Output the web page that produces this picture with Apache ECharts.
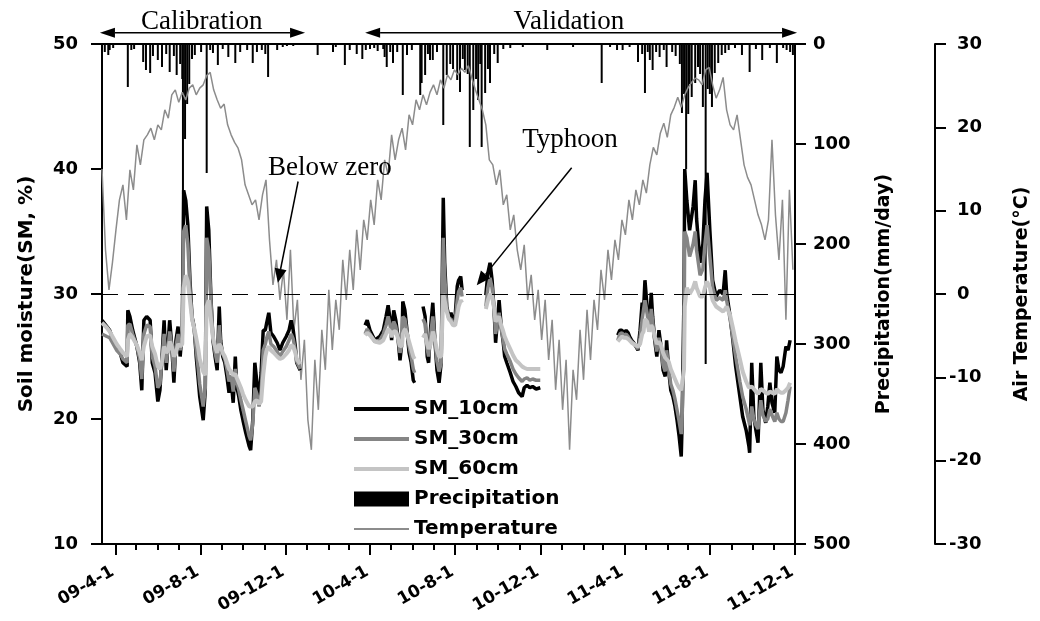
<!DOCTYPE html>
<html>
<head>
<meta charset="utf-8">
<script src="https://cdn.jsdelivr.net/npm/echarts@6/dist/echarts.min.js"></script>
<style>
  html, body { margin: 0; padding: 0; background: #fff; }
  #chart { width: 1040px; height: 621px; }
</style>
</head>
<body>
<div id="chart"></div>
<script>
// day 0 of every day count below
var startDate = [2009, 2, 13];
var tickLabels = ["09-4-1", "09-8-1", "09-12-1", "10-4-1", "10-8-1", "10-12-1", "11-4-1", "11-8-1", "11-12-1"];

// air temperature, one reading every 5 days from day 0
var tempStep = 5;
var tempVals = [15, 5.3, 0.5, 3.8, 7.7, 11.3, 13.1, 8.9, 14.9, 12.5,
  17.9, 15.5, 18.5, 19.1, 19.9, 18.5, 20.3, 19.7, 22.1, 21.1,
  23.9, 24.5, 23.0, 24.2, 23.3, 24.7, 25.1, 23.9, 24.7, 25.1,
  26.2, 26.6, 24.5, 23.3, 22.3, 22.8, 20.3, 19.1, 18.2, 17.5,
  16.1, 13.1, 11.9, 10.7, 11.3, 8.9, 11.9, 13.7, 6.5, 1.1,
  4.1, -0.7, 2.9, -3.1, 5.3, -4.3, -0.7, -10.3, -5.5, -15.1,
  -18.7, -7.9, -13.9, -4.3, -9.1, 0.5, -6.7, -0.7, -4.3, 4.1,
  -0.7, 5.3, 0.5, 7.7, 2.9, 8.9, 6.5, 11.3, 8.3, 13.7,
  11.3, 16.1, 14.3, 19.1, 16.1, 18.5, 19.9, 17.3, 21.5, 20.3,
  23.3, 22.1, 23.9, 22.7, 24.2, 25.1, 23.9, 25.7, 24.7, 26.3,
  25.7, 26.9, 26.3, 27.1, 26.6, 27.4, 25.9, 24.5, 23.3, 22.1,
  20.3, 16.1, 15.5, 13.1, 14.9, 10.7, 11.9, 7.7, 9.5, 5.3,
  2.9, 5.9, -0.7, 2.3, -3.1, 0.5, -5.5, -0.7, -7.9, -3.1,
  -11.5, -5.5, -13.9, -7.9, -18.7, -9.1, -12.7, -4.3, -10.3, -1.9,
  -7.9, -0.7, -4.3, 2.9, -0.7, 5.3, 1.7, 6.5, 4.1, 8.9,
  7.1, 11.3, 8.9, 12.5, 10.7, 13.7, 12.1, 15.5, 17.6, 16.7,
  19.3, 20.5, 18.8, 21.5, 22.4, 23.6, 22.4, 23.9, 24.8, 25.4,
  25.9, 25.7, 25.1, 26.9, 27.2, 25.1, 23.5, 24.5, 26.0, 22.1,
  20.3, 19.7, 21.5, 18.5, 15.5, 14.0, 13.1, 11.3, 9.5, 8.3,
  6.5, 8.9, 18.5, 9.5, 4.1, 11.3, -3.1, 12.5, 2.9];

// daily precipitation events (day, mm)
var precipDay = [4, 9, 11, 16, 37, 42, 46, 59, 63, 69,
  73, 80, 86, 92, 97, 103, 107, 112, 115, 116,
  119, 122, 125, 129, 133, 142, 150, 155, 159, 166,
  173, 181, 191, 198, 208, 216, 222, 229, 234, 238,
  251, 259, 265, 274, 309, 331, 335, 348, 355, 365,
  373, 378, 384, 390, 395, 403, 405, 408, 413, 417,
  423, 431, 437, 444, 456, 458, 463, 467, 470, 474,
  480, 489, 494, 499, 503, 509, 513, 517, 520, 524,
  527, 532, 536, 539, 542, 544, 549, 553, 556, 562,
  567, 575, 585, 603, 638, 675, 716, 728, 738, 746,
  756, 768, 774, 778, 782, 785, 789, 794, 799, 805,
  809, 817, 822, 828, 831, 834, 837, 840, 842, 845,
  850, 854, 857, 861, 865, 868, 871, 874, 878, 883,
  888, 893, 898, 907, 917, 928, 937, 946, 957, 967,
  976, 981, 986, 990];
var precipMm = [8, 11, 6, 4, 43, 6, 5, 18, 26, 29,
  12, 16, 23, 10, 28, 12, 31, 20, 35, 150,
  95, 60, 40, 15, 11, 8, 129, 6, 9, 21,
  5, 13, 19, 8, 6, 19, 8, 6, 10, 33,
  6, 3, 2, 2, 11, 8, 3, 21, 6, 10,
  15, 6, 5, 4, 7, 5, 13, 23, 8, 19,
  8, 51, 11, 6, 51, 39, 31, 10, 16, 16,
  8, 81, 31, 20, 25, 36, 48, 15, 26, 30,
  103, 66, 35, 56, 20, 103, 49, 25, 39, 10,
  19, 5, 4, 3, 6, 3, 39, 3, 6, 6,
  3, 18, 10, 49, 8, 16, 26, 8, 13, 6,
  23, 8, 12, 20, 69, 50, 125, 70, 40, 53,
  39, 23, 30, 63, 320, 45, 50, 63, 29, 19,
  11, 9, 6, 4, 11, 28, 5, 16, 4, 19,
  4, 6, 8, 11];

// soil moisture readings (null = no record)
var smDay = [0, 7, 11, 16, 21, 26, 30, 36, 37, 40,
  44, 50, 54, 57, 60, 64, 69, 72, 76, 80,
  83, 86, 89, 92, 95, 97, 100, 103, 106, 109,
  112, 115, 117, 120, 123, 126, 129, 132, 135, 138,
  140, 145, 148, 150, 153, 156, 159, 162, 165, 168,
  170, 173, 176, 179, 182, 185, 188, 191, 193, 196,
  199, 202, 206, 211, 213, 216, 219, 222, 225, 228,
  231, 234, 236, 239, 242, 246, 251, 255, 259, 264,
  268, 271, 274, 277, 279, 284, 330,
  377, 380, 384, 391, 398, 403, 407, 410, 413, 415,
  418, 421, 424, 427, 430, 431, 434, 437, 440, 443,
  446, 448, 453, 460, 463, 466, 468, 471, 474, 477,
  480, 483, 486, 489, 491, 494, 497, 500, 503, 506,
  509, 511, 514, 516, 533, 550, 553, 556, 559, 562,
  564, 569, 572, 575, 577, 580, 585, 589, 593, 597,
  602, 605, 609, 613, 617, 622, 628, 685,
  739, 742, 745, 748, 751, 754, 756, 759, 762, 765,
  768, 771, 774, 776, 778, 781, 784, 787, 789, 792,
  795, 798, 801, 804, 807, 809, 812, 815, 818, 821,
  824, 827, 830, 831, 834, 835, 838, 842, 847, 850,
  852, 857, 861, 864, 867, 871, 875, 880, 885, 890,
  893, 895, 900, 904, 908, 914, 918, 923, 927, 928,
  931, 934, 937, 940, 944, 947, 951, 954, 957, 960,
  964, 967, 970, 973, 976, 980, 983, 986];
var sm10 = [27.9, 27.4, 27.1, 26.3, 25.8, 25.3, 24.5, 24.2, 28.7, 28.2,
  27.1, 25.8, 24.5, 22.3, 27.9, 28.2, 27.9, 24.5, 23.7, 21.4,
  22.3, 25.0, 27.9, 23.9, 26.3, 27.9, 25.8, 22.9, 26.3, 27.4,
  25.0, 27.1, 38.3, 37.5, 35.5, 31.1, 28.2, 27.4, 25.0, 23.1,
  21.8, 19.9, 22.3, 37.0, 35.1, 29.8, 26.3, 25.0, 23.9, 29.0,
  26.3, 25.0, 24.5, 23.4, 22.1, 23.1, 21.3, 25.0, 22.6, 21.8,
  20.7, 19.9, 18.9, 17.8, 17.5, 19.9, 24.5, 22.9, 21.5, 23.7,
  27.1, 27.1, 27.7, 28.5, 26.9, 26.6, 26.1, 25.5, 26.1, 26.6,
  27.1, 27.9, 27.1, 25.8, 24.5, 23.9, null,
  27.5, 27.9, 27.1, 26.3, 26.6, 27.1, 28.2, 29.1, 27.9, 26.3,
  28.7, 27.9, 26.6, 24.7, 26.3, 29.4, 28.7, 27.1, 25.3, 24.5,
  23.1, 22.9, null, 29.0, 28.2, 25.0, 24.5, 27.4, 29.3, 26.3,
  23.9, 22.9, 24.5, 37.7, 32.5, 29.0, 28.2, 28.5, 27.9, 28.2,
  30.6, 31.1, 31.4, 30.3, null, 29.9, 31.7, 32.5, 31.1, 28.5,
  26.1, 29.5, 27.4, 26.1, 25.0, 24.5, 23.7, 23.0, 22.6, 22.1,
  21.8, 22.5, 22.7, 22.5, 22.6, 22.4, 22.5, null,
  26.7, 27.1, 27.1, 26.9, 27.1, 26.9, 26.6, 26.3, 26.1, 25.8,
  25.5, 27.1, 29.3, 28.7, 31.1, 29.0, 27.1, 30.1, 28.2, 26.3,
  25.0, 27.1, 25.8, 23.9, 23.4, 26.3, 23.9, 22.3, 21.8, 21.0,
  19.9, 18.6, 17.0, 19.1, 30.0, 40.0, 37.5, 35.1, 37.0, 39.1,
  36.0, 32.5, 34.0, 37.5, 39.7, 35.1, 31.1, 29.8, 30.3, 30.0,
  31.9, 30.1, 28.2, 26.3, 24.2, 21.8, 20.2, 19.1, 17.8, 17.3,
  24.5, 20.2, 19.1, 18.1, 24.5, 20.7, 19.7, 21.0, 22.9, 21.3,
  20.5, 25.0, 23.9, 23.7, 24.2, 25.8, 25.5, 26.3];
var sm30 = [26.8, 26.6, 26.5, 26.0, 25.5, 25.2, 24.8, 24.5, 27.5, 27.6,
  26.8, 25.8, 24.8, 23.2, 26.8, 27.5, 27.4, 25.0, 24.2, 22.5,
  22.8, 24.8, 26.8, 24.5, 25.8, 27.0, 25.8, 23.8, 25.8, 26.8,
  25.5, 26.5, 35.0, 35.5, 34.0, 30.5, 28.0, 27.2, 25.5, 24.0,
  22.8, 21.0, 22.5, 34.5, 33.5, 29.5, 26.5, 25.3, 24.5, 27.5,
  26.0, 25.2, 24.8, 24.0, 23.0, 23.5, 22.2, 24.0, 23.0, 22.3,
  21.5, 20.8, 19.8, 18.6, 18.3, 19.6, 22.5, 22.0, 21.0, 22.0,
  25.5, 26.0, 26.5, 27.0, 26.0, 25.8, 25.4, 25.0, 25.4, 25.8,
  26.3, 26.8, 26.4, 25.5, 24.6, 24.0, null,
  26.8, 27.2, 26.8, 26.2, 26.3, 26.8, 27.5, 28.2, 27.5, 26.5,
  27.8, 27.4, 26.5, 25.3, 26.0, 28.2, 28.0, 27.0, 25.8, 25.0,
  24.0, 23.7, null, 28.0, 27.6, 25.6, 25.0, 26.8, 28.2, 26.3,
  24.6, 23.8, 24.5, 34.5, 31.5, 28.8, 28.0, 28.0, 27.6, 27.8,
  29.5, 30.2, 30.5, 29.8, null, 29.0, 30.5, 31.3, 30.5, 28.6,
  26.8, 28.5, 27.2, 26.3, 25.6, 25.2, 24.6, 24.0, 23.6, 23.3,
  23.0, 23.2, 23.3, 23.1, 23.2, 23.1, 23.1, null,
  26.3, 26.8, 26.9, 26.7, 26.8, 26.6, 26.4, 26.2, 26.0, 25.8,
  25.6, 26.5, 28.0, 28.0, 29.5, 28.5, 27.0, 28.8, 27.8, 26.4,
  25.4, 26.5, 25.6, 24.3, 23.8, 25.5, 24.0, 22.8, 22.3, 21.6,
  20.7, 19.8, 18.8, 19.5, 26.0, 35.0, 34.5, 33.0, 34.0, 35.0,
  33.5, 31.5, 32.0, 34.0, 35.5, 33.0, 30.5, 29.5, 29.7, 29.5,
  30.3, 29.5, 28.0, 26.5, 25.0, 23.0, 21.8, 20.8, 19.8, 19.5,
  21.0, 20.0, 19.5, 19.2, 21.5, 20.3, 19.8, 20.0, 20.8, 20.3,
  19.8, 20.5, 20.0, 19.8, 19.8, 20.5, 21.5, 22.6];
var sm60 = [27.7, 27.3, 27.0, 26.5, 26.0, 25.6, 25.3, 25.0, 26.3, 26.8,
  26.5, 25.9, 25.3, 24.7, 25.8, 26.6, 26.7, 25.8, 25.2, 24.2,
  24.0, 24.6, 25.8, 25.3, 25.5, 26.2, 25.8, 25.0, 25.3, 26.0,
  25.8, 26.0, 30.5, 31.5, 31.0, 29.5, 28.0, 27.3, 26.5, 25.6,
  24.8, 23.8, 23.5, 29.0, 29.5, 28.0, 26.5, 25.8, 25.3, 26.0,
  25.8, 25.3, 25.0, 24.5, 24.0, 23.8, 23.5, 23.6, 23.3, 22.9,
  22.5, 22.0, 21.5, 21.0, 20.9, 21.0, 21.4, 21.5, 21.2, 21.4,
  23.5, 25.0, 25.5, 25.8, 25.5, 25.3, 25.0, 24.8, 24.9, 25.2,
  25.5, 25.9, 25.8, 25.3, 24.8, 24.4, null,
  26.7, 26.9, 26.7, 26.2, 26.1, 26.3, 26.8, 27.2, 27.0, 26.6,
  27.0, 27.0, 26.5, 25.8, 25.9, 26.8, 27.2, 26.8, 26.2, 25.6,
  25.0, 24.8, null, 26.5, 26.8, 26.0, 25.6, 26.0, 27.0, 26.4,
  25.5, 25.0, 25.0, 30.0, 30.0, 28.6, 28.0, 27.8, 27.5, 27.5,
  28.3, 29.0, 29.5, 29.3, null, 28.8, 29.5, 30.0, 29.8, 28.8,
  27.8, 28.2, 27.5, 27.0, 26.6, 26.2, 25.6, 25.1, 24.7, 24.5,
  24.2, 24.1, 24.0, 24.0, 24.0, 24.0, 24.0, null,
  26.2, 26.4, 26.6, 26.5, 26.5, 26.4, 26.3, 26.1, 26.0, 25.9,
  25.8, 26.0, 26.8, 27.0, 28.0, 27.8, 27.0, 27.5, 27.3, 26.6,
  26.0, 26.2, 25.9, 25.3, 24.9, 25.0, 24.6, 24.0, 23.6, 23.2,
  22.8, 22.5, 22.3, 22.3, 24.0, 29.0, 30.5, 30.0, 30.5, 31.0,
  30.5, 29.8, 29.8, 30.5, 31.0, 30.5, 29.5, 29.0, 28.8, 28.6,
  28.8, 29.0, 28.3, 27.3, 26.2, 24.8, 23.8, 23.0, 22.5, 22.4,
  22.6, 22.4, 22.2, 22.0, 22.4, 22.3, 22.1, 22.0, 22.2, 22.1,
  22.0, 22.4, 22.2, 22.1, 22.1, 22.3, 22.5, 22.9];

// annotation anchors: [day, soil moisture]
var calibSpan = [-3, 291];
var validSpan = [377, 996];
var spanLevel = 50.9;
var calibText = [143, 51.8];
var validText = [669, 51.8];
var belowZeroText = [238, 40.1];
var belowZeroArrow = [[281, 39.0], [252, 30.9]];
var typhoonText = [602, 42.3];
var typhoonArrow = [[673, 40.1], [537, 30.7]];

var FONT = "DejaVu Sans";
var SERIF = "Liberation Serif";

function dayToTime(d) {
  return new Date(startDate[0], startDate[1], startDate[2] + d).getTime();
}
function labelToTime(s) {
  var p = s.split("-");
  return new Date(2000 + Number(p[0]), Number(p[1]) - 1, Number(p[2])).getTime();
}
var majorTimes = tickLabels.map(labelToTime);
var monthTimes = [];
for (var i = 0; i <= 32; i++) {
  monthTimes.push(new Date(2009, 3 + i, 1).getTime());
}

var tempData = tempVals.map(function (v, k) { return [dayToTime(k * tempStep), v]; });
var precipData = precipDay.map(function (d, k) { return [dayToTime(d), precipMm[k]]; });
function smData(vals) {
  return smDay.map(function (d, k) { return [dayToTime(d), vals[k]]; });
}

var lineSt = { color: "#000", width: 2 };
var labelSt = { color: "#000", fontFamily: FONT, fontWeight: "bold", fontSize: 18 };
var nameSt = { color: "#000", fontFamily: FONT, fontWeight: "bold", fontSize: 19 };
var xMin = dayToTime(0);
var xMax = majorTimes[majorTimes.length - 1];

var chart = echarts.init(document.getElementById("chart"));
var option = {
  animation: false,
  textStyle: { fontFamily: FONT },
  grid: {
    left: 102, right: 245, top: 44, bottom: 77,
    show: true, borderColor: "#000", borderWidth: 2, backgroundColor: "transparent"
  },
  legend: {
    orient: "vertical",
    left: 347,
    top: 394,
    itemWidth: 55,
    itemHeight: 15,
    itemGap: 10,
    selectedMode: false,
    itemStyle: { opacity: 0 },
    data: [
      { name: "SM_10cm", lineStyle: { width: 4 } },
      { name: "SM_30cm", lineStyle: { width: 4 } },
      { name: "SM_60cm", lineStyle: { width: 4 } },
      { name: "Precipitation", icon: "rect", itemStyle: { opacity: 1, color: "#000" } },
      { name: "Temperature", lineStyle: { width: 2 } }
    ],
    textStyle: { color: "#000", fontFamily: FONT, fontWeight: "bold", fontSize: 20 }
  },
  xAxis: [
    {
      type: "value",
      min: xMin,
      max: xMax,
      axisLine: { show: true, onZero: false, lineStyle: lineSt },
      axisTick: { show: true, customValues: majorTimes, length: 11, lineStyle: lineSt },
      axisLabel: {
        customValues: majorTimes,
        rotate: 30,
        margin: 25,
        padding: [0, 3, 0, 0],
        color: "#000", fontFamily: FONT, fontWeight: "bold", fontSize: 17,
        formatter: function (v) {
          var k = majorTimes.indexOf(v);
          return k >= 0 ? tickLabels[k] : "";
        }
      },
      splitLine: { show: false }
    },
    {
      type: "value",
      position: "bottom",
      min: xMin,
      max: xMax,
      axisLine: { show: false, onZero: false },
      axisTick: { show: true, customValues: monthTimes, length: 6, lineStyle: lineSt },
      axisLabel: { show: false },
      splitLine: { show: false }
    }
  ],
  yAxis: [
    {
      type: "value", min: 10, max: 50, interval: 10, position: "left",
      axisLine: { show: true, onZero: false, lineStyle: lineSt },
      axisTick: { show: true, length: 11, lineStyle: lineSt },
      axisLabel: Object.assign({ margin: 24 }, labelSt),
      splitLine: { show: false },
      name: "Soil moisture(SM, %)", nameLocation: "middle", nameRotate: 90, nameGap: 65,
      nameTextStyle: Object.assign({}, nameSt, { fontSize: 20 })
    },
    {
      type: "value", min: 0, max: 500, interval: 100, position: "right", inverse: true,
      axisLine: { show: true, onZero: false, lineStyle: lineSt },
      axisTick: { show: true, length: 11, lineStyle: lineSt },
      axisLabel: Object.assign({ margin: 18 }, labelSt),
      splitLine: { show: false },
      name: "Precipitation(mm/day)", nameLocation: "middle", nameRotate: 90, nameGap: 80,
      nameTextStyle: nameSt
    },
    {
      type: "value", min: -30, max: 30, interval: 10, position: "right", offset: 140,
      axisLine: { show: true, onZero: false, lineStyle: lineSt },
      axisTick: { show: true, length: 11, lineStyle: lineSt },
      axisLabel: {
        margin: 14,
        formatter: function (v) { return v < 0 ? "{a|" + v + "}" : "{s| }{a|" + v + "}"; },
        rich: { a: labelSt, s: { width: 8 } }
      },
      splitLine: { show: false },
      name: "Air Temperature(°C)", nameLocation: "middle", nameRotate: 90, nameGap: 78,
      nameTextStyle: nameSt
    }
  ],
  series: [
    {
      name: "Temperature", type: "line", xAxisIndex: 0, yAxisIndex: 2,
      data: tempData, symbol: "none",
      lineStyle: { color: "#8c8c8c", width: 1.5 }, itemStyle: { color: "#8c8c8c" }
    },
    {
      name: "SM_10cm", type: "line", xAxisIndex: 0, yAxisIndex: 0,
      data: smData(sm10), symbol: "none",
      lineStyle: { color: "#000", width: 3.5 }, itemStyle: { color: "#000" },
      markLine: {
        silent: true, symbol: "none", label: { show: false },
        lineStyle: { color: "#000", width: 1, type: [16, 10] },
        data: [{ yAxis: 30 }]
      }
    },
    {
      name: "SM_30cm", type: "line", xAxisIndex: 0, yAxisIndex: 0,
      data: smData(sm30), symbol: "none",
      lineStyle: { color: "#858585", width: 3.5 }, itemStyle: { color: "#858585" }
    },
    {
      name: "SM_60cm", type: "line", xAxisIndex: 0, yAxisIndex: 0,
      data: smData(sm60), symbol: "none",
      lineStyle: { color: "#c4c4c4", width: 4 }, itemStyle: { color: "#c4c4c4" }
    },
    {
      name: "Precipitation", type: "bar", xAxisIndex: 0, yAxisIndex: 1,
      data: precipData, barWidth: 2,
      itemStyle: { color: "#000" }
    }
  ]
};
chart.setOption(option);

// annotations placed through the soil-moisture series' coordinate system
function px(p) {
  return chart.convertToPixel({ seriesIndex: 1 }, [dayToTime(p[0]), p[1]]);
}
function head(from, tip, len, half) {
  var dx = tip[0] - from[0], dy = tip[1] - from[1];
  var l = Math.sqrt(dx * dx + dy * dy);
  var ux = dx / l, uy = dy / l;
  var bx = tip[0] - ux * len, by = tip[1] - uy * len;
  return {
    base: [bx, by],
    shape: {
      type: "polygon",
      shape: { points: [tip, [bx - uy * half, by + ux * half], [bx + uy * half, by - ux * half]] },
      style: { fill: "#000" }
    }
  };
}
function arrow(from, tip) {
  var h = head(from, tip, 14, 6);
  return [
    { type: "line", shape: { x1: from[0], y1: from[1], x2: h.base[0], y2: h.base[1] }, style: { stroke: "#000", lineWidth: 1.5 } },
    h.shape
  ];
}
function span(range) {
  var a = px([range[0], spanLevel]), b = px([range[1], spanLevel]);
  var h1 = head(b, a, 15, 5), h2 = head(a, b, 15, 5);
  return [
    { type: "line", shape: { x1: h1.base[0], y1: a[1], x2: h2.base[0], y2: b[1] }, style: { stroke: "#000", lineWidth: 1.5 } },
    h1.shape, h2.shape
  ];
}
function label(text, p, align) {
  var q = px(p);
  return {
    type: "text", x: q[0], y: q[1],
    style: { text: text, fill: "#000", font: "27px " + SERIF, textAlign: align, textVerticalAlign: "middle" }
  };
}
var g = [].concat(
  span(calibSpan), span(validSpan),
  arrow(px(belowZeroArrow[0]), px(belowZeroArrow[1])),
  arrow(px(typhoonArrow[0]), px(typhoonArrow[1])),
  [label("Calibration", calibText, "center"),
   label("Validation", validText, "center"),
   label("Below zero", belowZeroText, "left"),
   label("Typhoon", typhoonText, "left")]
);
chart.setOption({ graphic: g.map(function (e) { e.z = 100; return e; }) });
</script>
</body>
</html>
